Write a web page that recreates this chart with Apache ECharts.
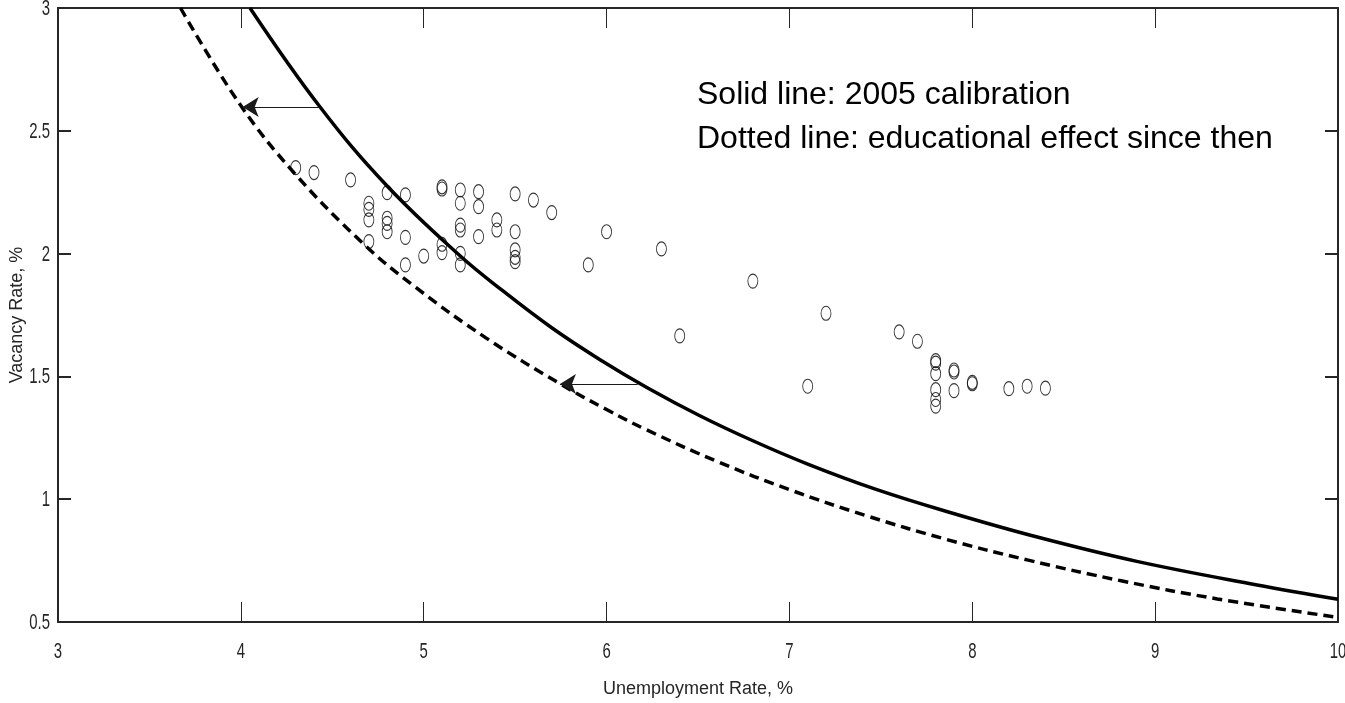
<!DOCTYPE html>
<html>
<head>
<meta charset="utf-8">
<script src="https://cdn.jsdelivr.net/npm/echarts@6/dist/echarts.min.js"></script>
<style>
  html, body { margin: 0; padding: 0; background: #ffffff; }
  #chart { width: 1345px; height: 703px; }
</style>
</head>
<body>
<div id="chart"></div>
<script>
// Monthly unemployment / vacancy observations (%)
const unemployment = [4.3, 4.4, 4.6, 4.7, 4.7, 4.7, 4.7, 4.8, 4.8, 4.8, 4.8, 4.9, 4.9, 4.9, 5.0,
  5.1, 5.1, 5.1, 5.1, 5.2, 5.2, 5.2, 5.2, 5.2, 5.2, 5.3, 5.3, 5.3, 5.4, 5.4,
  5.5, 5.5, 5.5, 5.5, 5.5, 5.6, 5.7, 5.9, 6.0, 6.3, 6.4, 6.8, 7.1, 7.2, 7.6,
  7.7, 7.8, 7.8, 7.8, 7.8, 7.8, 7.8, 7.9, 7.9, 7.9, 8.0, 8.0, 8.2, 8.3, 8.4];
const vacancy = [2.35, 2.33, 2.30, 2.205, 2.18, 2.137, 2.049, 2.248, 2.144, 2.123, 2.089, 2.239, 2.066, 1.954, 1.99,
  2.272, 2.263, 2.038, 2.004, 2.259, 2.205, 2.116, 2.096, 2.001, 1.954, 2.252, 2.191, 2.069, 2.137, 2.096,
  2.243, 2.089, 2.015, 1.985, 1.967, 2.218, 2.167, 1.954, 2.089, 2.019, 1.665, 1.888, 1.46, 1.757, 1.681,
  1.643, 1.564, 1.554, 1.511, 1.446, 1.406, 1.379, 1.526, 1.518, 1.442, 1.476, 1.470, 1.450, 1.460, 1.452];

// Beveridge curve, 2005 calibration
const solidU = [4.05, 4.43, 4.80, 5.20, 5.43, 5.70, 5.96, 6.22, 6.51, 6.80, 7.10, 7.47, 7.86, 8.35, 8.90, 9.55, 10.0];
const solidV = [3.00, 2.60, 2.275, 1.99, 1.85, 1.698, 1.57, 1.455, 1.34, 1.238, 1.143, 1.041, 0.95, 0.847, 0.747, 0.652, 0.593];

// Beveridge curve shifted by the educational effect
const dashedU = [3.67, 3.99, 4.29, 4.67, 4.95, 5.34, 5.75, 6.00, 6.22, 6.61, 7.00, 7.42, 7.86, 8.30, 8.82, 9.34, 10.0];
const dashedV = [3.00, 2.613, 2.33, 2.04, 1.866, 1.657, 1.468, 1.365, 1.282, 1.152, 1.039, 0.933, 0.836, 0.753, 0.667, 0.594, 0.519];

// Shift arrows: [from, to] in (unemployment, vacancy)
const shiftArrows = [
  [[4.43, 2.597], [4.01, 2.597]],
  [[6.17, 1.469], [5.745, 1.469]]
];

const xTickLabels = ['3', '4', '5', '6', '7', '8', '9', '10'];
const yTickLabels = ['0.5', '1', '1.5', '2', '2.5', '3'];
const noteLines = ['Solid line: 2005 calibration', 'Dotted line: educational effect since then'];

const axisColor = '#262626';
const sans = '"Liberation Sans", Arial, Helvetica, sans-serif';

const zip = (a, b) => a.map((v, i) => [v, b[i]]);

function xAxisDef(pos) {
  return {
    type: 'value', position: pos, min: 3, max: 10, interval: 1,
    axisLine: { show: true, onZero: false, lineStyle: { color: axisColor, width: 2 } },
    axisTick: { show: true, inside: true, length: 20, lineStyle: { color: axisColor, width: 1 } },
    axisLabel: { show: false },
    splitLine: { show: false }
  };
}
function yAxisDef(pos) {
  return {
    type: 'value', position: pos, min: 0.5, max: 3, interval: 0.5,
    axisLine: { show: true, onZero: false, lineStyle: { color: axisColor, width: 2 } },
    axisTick: { show: true, inside: true, length: 13, lineStyle: { color: axisColor, width: 2 } },
    axisLabel: { show: false },
    splitLine: { show: false }
  };
}

const xBottom = Object.assign(xAxisDef('bottom'), {
  name: 'Unemployment Rate, %', nameLocation: 'middle', nameGap: 58,
  nameTextStyle: { fontFamily: sans, fontSize: 18, color: axisColor }
});
const yLeft = Object.assign(yAxisDef('left'), {
  name: 'Vacancy Rate, %', nameLocation: 'middle', nameGap: 32,
  nameTextStyle: { fontFamily: sans, fontSize: 18, color: axisColor }
});

const chart = echarts.init(document.getElementById('chart'), null, { renderer: 'canvas' });

chart.setOption({
  animation: false,
  backgroundColor: '#ffffff',
  grid: { left: 58, right: 7, top: 8, bottom: 81, containLabel: false, outerBoundsMode: 'none' },
  xAxis: [xBottom, xAxisDef('top')],
  yAxis: [yLeft, yAxisDef('right')],
  series: [
    {
      name: noteLines[0], type: 'line', data: zip(solidU, solidV),
      showSymbol: false, symbol: 'none', smooth: 0.4, clip: true,
      lineStyle: { color: '#000000', width: 3.5 }, silent: true
    },
    {
      name: noteLines[1], type: 'line', data: zip(dashedU, dashedV),
      showSymbol: false, symbol: 'none', smooth: 0.4, clip: true,
      lineStyle: { color: '#000000', width: 3.5, type: [10, 6] }, silent: true
    },
    {
      name: 'Observed', type: 'scatter', data: zip(unemployment, vacancy),
      symbol: 'path://M0,-1A1,1,0,1,1,0,1A1,1,0,1,1,0,-1Z', symbolSize: [10, 14],
      itemStyle: { color: 'rgba(0,0,0,0)', borderColor: '#000000', borderWidth: 1 }, silent: true
    },
    {
      name: 'Shift', type: 'line', data: [], silent: true,
      markLine: {
        silent: true, animation: false,
        symbol: ['none', 'arrow'], symbolSize: [15, 16],
        label: { show: false },
        lineStyle: { color: '#1a1a1a', width: 1, type: 'solid' },
        emphasis: { disabled: true },
        data: shiftArrows.map(([a, b]) => [{ coord: a }, { coord: b }])
      }
    }
  ]
});

// Tick labels in a tall, condensed face, placed through the axis scales
const tickFont = '22px ' + sans;
const graphics = [];
xTickLabels.forEach(t => {
  const p = chart.convertToPixel({ gridIndex: 0 }, [Number(t), 0.5]);
  graphics.push({
    type: 'text', x: p[0], y: p[1] + 30, scaleX: 0.68, silent: true,
    style: { text: t, font: tickFont, fill: axisColor, align: 'center', verticalAlign: 'middle' }
  });
});
yTickLabels.forEach(t => {
  const p = chart.convertToPixel({ gridIndex: 0 }, [3, Number(t)]);
  graphics.push({
    type: 'text', x: p[0] - 8, y: p[1] + 1, scaleX: 0.68, silent: true,
    style: { text: t, font: tickFont, fill: axisColor, align: 'right', verticalAlign: 'middle' }
  });
});
// Explanatory note inside the plot
noteLines.forEach((t, i) => {
  graphics.push({
    type: 'text', left: 697, top: 79 + i * 44, silent: true,
    style: { text: t, font: '32px ' + sans, fill: '#000000' }
  });
});
chart.setOption({ graphic: graphics });
</script>
</body>
</html>
